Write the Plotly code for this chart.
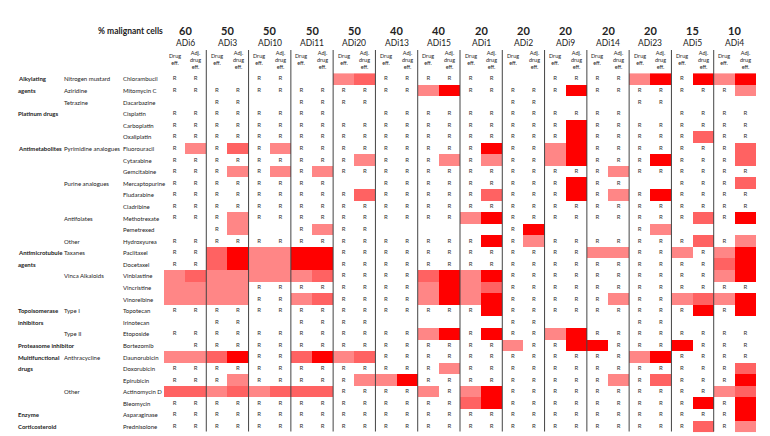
import plotly.graph_objects as go

samples = ['ADi6', 'ADi3', 'ADi10', 'ADi11', 'ADi20', 'ADi13', 'ADi15',
           'ADi1', 'ADi2', 'ADi9', 'ADi14', 'ADi23', 'ADi5', 'ADi4']
malignant = [60, 50, 50, 50, 50, 40, 40, 20, 20, 20, 20, 20, 15, 10]

drugs = ['Chlorambucil', 'Mitomycin C', 'Dacarbazine', 'Cisplatin', 'Carboplatin', 'Oxaliplatin',
         'Fluorouracil', 'Cytarabine', 'Gemcitabine', 'Mercaptopurine', 'Fludarabine', 'Cladribine',
         'Methotrexate', 'Pemetrexed', 'Hydroxyurea', 'Paclitaxel', 'Docetaxel', 'Vinblastine',
         'Vincristine', 'Vinorelbine', 'Topotecan', 'Irinotecan', 'Etoposide', 'Bortezomib',
         'Daunorubicin', 'Doxorubicin', 'Epirubicin', 'Actinomycin D', 'Bleomycin',
         'Asparaginase', 'Prednisolone']

drug_class = ['Alkylating', 'agents', '', 'Platinum drugs', '', '',
              'Antimetabolites', '', '', '', '', '', '', '', '',
              'Antimicrotubule', 'agents', '', '', '',
              'Topoisomerase', 'inhibitors', '', 'Proteasome inhibitor',
              'Multifunctional', 'drugs', '', '', '', 'Enzyme', 'Corticosteroid']

drug_subclass = ['Nitrogen mustard', 'Aziridine', 'Tetrazine', '', '', '',
                 'Pyrimidine analogues', '', '', 'Purine analogues', '', '',
                 'Antifolates', '', 'Other', 'Taxanes', '', 'Vinca Alkaloids', '', '',
                 'Type I', '', 'Type II', '', 'Anthracycline', '', '', 'Other', '', '', '']

# per drug, one pair per sample (drug eff., adj. drug eff.)
# R = resistant, . = not tested, 1/2/3 = effect level (light / medium / strong)
effects = [
    "RR .. RR .. 12 RR RR RR .. RR RR 13 R3 13",
    "RR RR RR RR RR RR 13 RR RR R3 RR RR RR R1",
    ".. RR .. RR RR .. .. .. RR .. .. RR .. ..",
    "RR RR RR RR .. RR RR RR RR RR RR .. RR RR",
    "RR RR RR RR RR RR RR RR RR R3 RR RR RR RR",
    "RR RR RR RR RR RR RR RR RR R3 RR RR R2 RR",
    "R1 R2 R1 RR RR RR RR R3 RR 13 RR RR RR R2",
    "RR RR RR RR R1 RR R1 R1 RR 13 RR R3 RR R2",
    "RR R1 R1 R1 RR RR RR RR RR RR R1 RR RR RR",
    "RR RR RR RR .. RR RR RR RR R3 RR .. RR R2",
    "RR RR RR RR R2 RR RR R2 RR R3 R1 R3 RR RR",
    "RR RR RR RR RR RR RR RR RR RR RR RR RR RR",
    "RR R1 RR RR RR RR RR 13 RR RR RR RR R2 R3",
    ".. R1 .. R1 RR .. .. .. R3 .. .. R1 .. ..",
    "RR RR RR RR RR RR RR R3 R1 RR RR RR R2 R1",
    "RR 23 11 33 RR RR RR RR RR RR 11 RR 1R 13",
    "RR 23 11 33 RR RR RR RR RR RR RR RR RR 23",
    "12 11 11 12 RR RR 23 13 RR RR RR RR RR 13",
    "11 11 RR RR RR RR 13 12 RR RR RR RR RR RR",
    "11 11 RR 12 RR RR 13 13 RR RR R1 RR 12 13",
    "RR RR RR RR RR RR RR R3 RR RR RR RR R3 R3",
    ".. RR .. RR RR .. .. .. RR .. .. RR .. ..",
    "RR RR RR RR RR RR 13 R3 RR 13 RR RR RR RR",
    ".R RR RR RR RR RR RR RR 1R R3 3R RR 3R RR",
    "11 23 RR 23 12 RR RR RR RR RR RR 13 RR RR",
    "RR RR RR RR RR RR R1 RR RR RR RR RR RR R2",
    "RR R1 RR RR R1 13 RR RR RR RR R1 R2 RR R3",
    "22 12 12 22 RR RR 1R 13 RR RR RR RR RR 12",
    "RR RR RR RR RR RR RR 23 RR RR RR RR R3 R3",
    "RR RR RR RR RR RR RR RR RR RR RR RR RR R3",
    "RR RR RR RR RR RR RR RR RR RR RR RR R2 R1",
]

W, H = 770, 436
FONT = 'Lato'
ncol = 2 * len(samples)
nrow = len(drugs)

z = []
rx, ry = [], []
for i, row in enumerate(effects):
    cells = row.replace(' ', '')
    zrow = []
    for j, c in enumerate(cells):
        if c in '123':
            zrow.append(int(c))
        else:
            zrow.append(None)
            if c == 'R':
                rx.append(j)
                ry.append(i)
    z.append(zrow)

fig = go.Figure()
fig.add_trace(go.Heatmap(z=z,
                         x=list(range(ncol)),
                         y=list(range(nrow)),
                         zmin=1, zmax=3,
                         colorscale=[[0, '#ff8686'], [0.5, '#ff6262'], [1, '#ff0000']],
                         showscale=False,
                         hoverinfo='skip'))
fig.add_trace(go.Scatter(x=rx, y=ry, mode='text', text=['R'] * len(rx),
                         textfont=dict(size=6, color='#333333', family=FONT),
                         hoverinfo='skip'))

x0, x1 = 156, 748
y_top, y_bot = 65.2, 424.3
fig.update_layout(width=W, height=H,
                  margin=dict(l=0, r=0, t=0, b=0),
                  paper_bgcolor='white', plot_bgcolor='white',
                  showlegend=False,
                  font=dict(family=FONT, color='#222222'),
                  xaxis=dict(domain=[x0 / W, x1 / W], range=[-0.5, ncol - 0.5],
                             visible=False, fixedrange=True),
                  yaxis=dict(domain=[1 - y_bot / H, 1 - y_top / H], range=[nrow - 0.5, -0.5],
                             visible=False, fixedrange=True))

# separators between samples
for s in range(1, len(samples)):
    fig.add_shape(type='line', xref='x', yref='paper',
                  x0=2 * s - 0.5, x1=2 * s - 0.5,
                  y0=1 - 423.5 / H, y1=1 - 42 / H,
                  line=dict(color='#444444', width=1))

ann = []
ann.append(dict(text='<b>% malignant cells</b>', xref='paper', yref='paper',
                x=157 / W, y=1 - 23 / H, xanchor='right', yanchor='middle',
                showarrow=False, font=dict(size=8.5)))
for s, name in enumerate(samples):
    ann.append(dict(text='<b>%d</b>' % malignant[s], xref='x', yref='paper',
                    x=2 * s + 0.5, y=1 - 23 / H, yanchor='middle',
                    showarrow=False, font=dict(size=11)))
    ann.append(dict(text=name, xref='x', yref='paper',
                    x=2 * s + 0.5, y=1 - 35 / H, yanchor='middle',
                    showarrow=False, font=dict(size=8.5)))
    ann.append(dict(text='Drug<br>eff.', xref='x', yref='paper',
                    x=2 * s, y=1 - 51 / H, yanchor='middle',
                    showarrow=False, font=dict(size=5.5)))
    ann.append(dict(text='Adj.<br>drug<br>eff.', xref='x', yref='paper',
                    x=2 * s + 1, y=1 - 52 / H, yanchor='middle',
                    showarrow=False, font=dict(size=5.5)))

for i in range(nrow):
    ann.append(dict(text=drugs[i], xref='paper', yref='y', x=113 / W, y=i,
                    xanchor='left', yanchor='middle', showarrow=False, font=dict(size=6)))
    if drug_subclass[i]:
        ann.append(dict(text=drug_subclass[i], xref='paper', yref='y', x=54 / W, y=i,
                        xanchor='left', yanchor='middle', showarrow=False, font=dict(size=6)))
    if drug_class[i]:
        ann.append(dict(text='<b>' + drug_class[i] + '</b>', xref='paper', yref='y', x=8 / W, y=i,
                        xanchor='left', yanchor='middle', showarrow=False, font=dict(size=6)))

fig.update_layout(annotations=ann)
fig.write_html("out.html")
